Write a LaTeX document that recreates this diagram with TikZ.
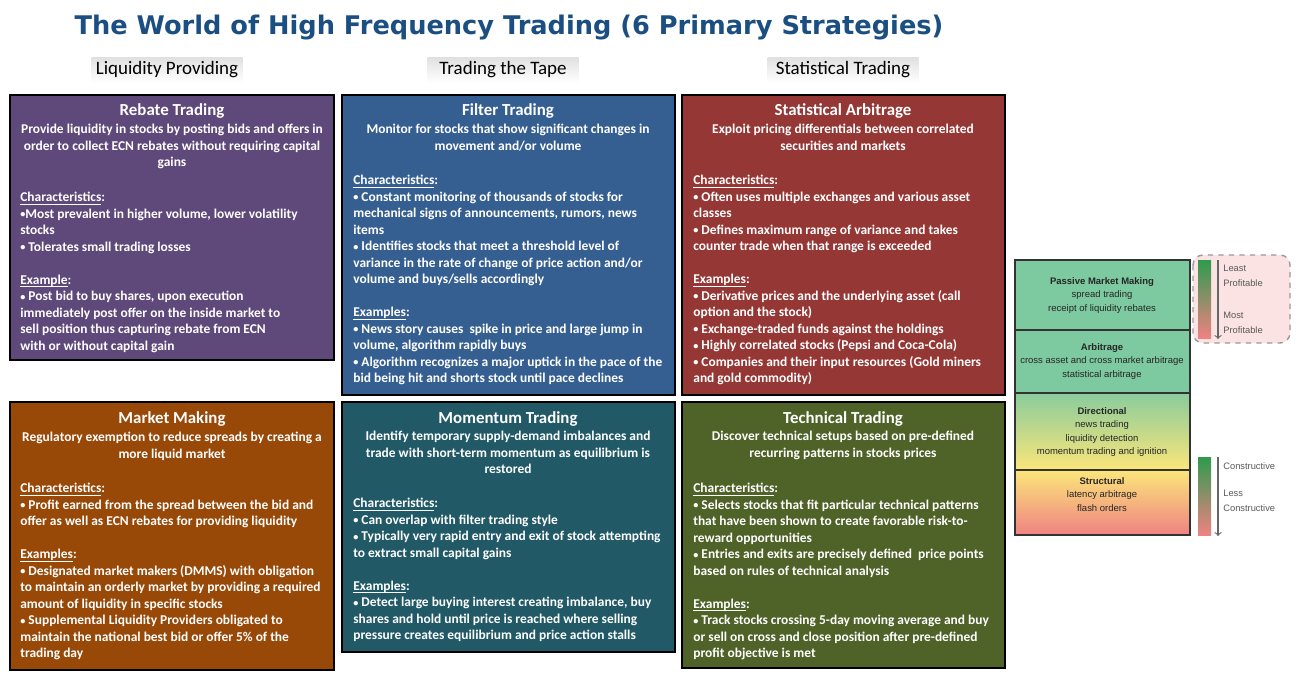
\documentclass[tikz,border=0pt]{standalone}
\usepackage{fontspec}
\setmainfont{Carlito}
\newfontfamily\arialfont{Liberation Sans}
\newfontfamily\titlefont{DejaVu Sans}
\newcommand{\bul}{\raisebox{0.4pt}{\fontsize{5.8}{9.4}\selectfont •}}
\newcommand{\sectul}[1]{\underline{\smash{#1}}}
\definecolor{titleblue}{HTML}{1B4F82}
\definecolor{rebate}{HTML}{5F497A}
\definecolor{filter}{HTML}{365F91}
\definecolor{statarb}{HTML}{953735}
\definecolor{marketmk}{HTML}{984807}
\definecolor{momentum}{HTML}{215967}
\definecolor{technical}{HTML}{4F6228}
\definecolor{lvgreen}{HTML}{7DC9A0}
\definecolor{lvyellow}{HTML}{FBE67A}
\definecolor{lvpeach}{HTML}{F7C3A8}
\definecolor{lvpink}{HTML}{EF8282}
\definecolor{bargreen}{HTML}{2E9A4E}
\definecolor{baryellow}{HTML}{F8D55A}
\definecolor{legpink}{HTML}{FCE3E3}
\tikzset{
  strat/.style={draw=black, line width=1.1pt},
  head/.style={text=white, font=\fontsize{9.6}{11}\selectfont\bfseries},
  sub/.style={text=white, font=\fontsize{7.65}{9.4}\selectfont\bfseries, align=center, anchor=north, inner sep=0pt},
  body/.style={text=white, font=\fontsize{7.65}{9.4}\selectfont\bfseries, align=left, anchor=north west, inner sep=0pt},
  colhead/.style={top color=black!12, bottom color=white, font=\fontsize{10.8}{12}\selectfont, minimum width=3.02cm, minimum height=0.5cm, inner sep=0pt},
  level/.style={font=\arialfont\fontsize{5.4}{7.7}\selectfont, align=center, anchor=north, inner sep=0pt, text=black!85},
  legtext/.style={font=\arialfont\fontsize{5.3}{8.3}\selectfont, align=left, anchor=north west, inner sep=0pt, text=black!65}
}
\begin{document}
\begin{tikzpicture}[x=0.02cm, y=-0.02cm]
\useasboundingbox (0,0) rectangle (1300,682);
\fill[white] (0,0) rectangle (1300,682);
\node[text=titleblue, font=\titlefont\bfseries\fontsize{14.6}{18}\selectfont] (title) at (509,28) {The World of High Frequency Trading (6 Primary Strategies)};
\node[colhead] (liqhead) at (167,70) {Liquidity Providing};
\node[colhead] (tapehead) at (503,70) {Trading the Tape};
\node[colhead] (stathead) at (843,70) {Statistical Trading};

\filldraw[strat, fill=rebate] (10,95) rectangle (334,360);
\filldraw[strat, fill=filter] (342,95) rectangle (675,395);
\filldraw[strat, fill=statarb] (682,95) rectangle (1005,395);
\filldraw[strat, fill=marketmk] (10,402) rectangle (334,670);
\filldraw[strat, fill=momentum] (342,402) rectangle (675,652);
\filldraw[strat, fill=technical] (682,402) rectangle (1005,668);

\node[head] (rebatehead) at (172,111) {Rebate Trading};
\node[sub] (rebatesub) at (172,124) {Provide liquidity in stocks by posting bids and offers in\\order to collect ECN rebates without requiring capital\\gains};
\node[body] (rebatebody) at (20,195) {\sectul{Characteristics}:\\
\bul Most prevalent in higher volume, lower volatility\\
stocks\\
\bul\ Tolerates small trading losses\\[9.4pt]
\sectul{Example}:\\
\bul\ Post bid to buy shares, upon execution\\
immediately post offer on the inside market to\\
sell position thus capturing rebate from ECN\\
with or without capital gain};

\node[head] (filterhead) at (508,111) {Filter Trading};
\node[sub] (filtersub) at (508,124) {Monitor for stocks that show significant changes in\\movement and/or volume};
\node[body] (filterbody) at (353,178) {\sectul{Characteristics}:\\
\bul\ Constant monitoring of thousands of stocks for\\
mechanical signs of announcements, rumors, news\\
items\\
\bul\ Identifies stocks that meet a threshold level of\\
variance in the rate of change of price action and/or\\
volume and buys/sells accordingly\\[9.4pt]
\sectul{Examples}:\\
\bul\ News story causes\ \ spike in price and large jump in\\
volume, algorithm rapidly buys\\
\bul\ Algorithm recognizes a major uptick in the pace of the\\
bid being hit and shorts stock until pace declines};

\node[head] (stathead2) at (843,111) {Statistical Arbitrage};
\node[sub] (statsub) at (843,124) {Exploit pricing differentials between correlated\\securities and markets};
\node[body] (statbody) at (693,178) {\sectul{Characteristics}:\\
\bul\ Often uses multiple exchanges and various asset\\
classes\\
\bul\ Defines maximum range of variance and takes\\
counter trade when that range is exceeded\\[9.4pt]
\sectul{Examples}:\\
\bul\ Derivative prices and the underlying asset (call\\
option and the stock)\\
\bul\ Exchange-traded funds against the holdings\\
\bul\ Highly correlated stocks (Pepsi and Coca-Cola)\\
\bul\ Companies and their input resources (Gold miners\\
and gold commodity)};

\node[head] (markethead) at (172,419) {Market Making};
\node[sub] (marketsub) at (172,432) {Regulatory exemption to reduce spreads by creating a\\more liquid market};
\node[body] (marketbody) at (20,486) {\sectul{Characteristics}:\\
\bul\ Profit earned from the spread between the bid and\\
offer as well as ECN rebates for providing liquidity\\[9.4pt]
\sectul{Examples}:\\
\bul\ Designated market makers (DMMS) with obligation\\
to maintain an orderly market by providing a required\\
amount of liquidity in specific stocks\\
\bul\ Supplemental Liquidity Providers obligated to\\
maintain the national best bid or offer 5\% of the\\
trading day};

\node[head] (momhead) at (508,419) {Momentum Trading};
\node[sub] (momsub) at (508,431) {Identify temporary supply-demand imbalances and\\trade with short-term momentum as equilibrium is\\restored};
\node[body] (mombody) at (353,501) {\sectul{Characteristics}:\\
\bul\ Can overlap with filter trading style\\
\bul\ Typically very rapid entry and exit of stock attempting\\
to extract small capital gains\\[9.4pt]
\sectul{Examples}:\\
\bul\ Detect large buying interest creating imbalance, buy\\
shares and hold until price is reached where selling\\
pressure creates equilibrium and price action stalls};

\node[head] (techhead) at (843,419) {Technical Trading};
\node[sub] (techsub) at (843,431) {Discover technical setups based on pre-defined\\recurring patterns in stocks prices};
\node[body] (techbody) at (693,486) {\sectul{Characteristics}:\\
\bul\ Selects stocks that fit particular technical patterns\\
that have been shown to create favorable risk-to-\\
reward opportunities\\
\bul\ Entries and exits are precisely defined\ \ price points\\
based on rules of technical analysis\\[9.4pt]
\sectul{Examples}:\\
\bul\ Track stocks crossing 5-day moving average and buy\\
or sell on cross and close position after pre-defined\\
profit objective is met};

\fill[lvgreen] (1015,260) rectangle (1190,393);
\shade[top color=lvgreen!90!lvyellow, bottom color=lvyellow] (1015,393) rectangle (1190,470);
\shade[top color=lvyellow, middle color=lvpeach, bottom color=lvpink] (1015,470) rectangle (1190,535);
\draw[black!80, line width=0.8pt] (1015,260) rectangle (1190,535);
\draw[black!80, line width=0.8pt] (1015,330) -- (1190,330);
\draw[black!80, line width=0.8pt] (1015,393) -- (1190,393);
\draw[black!80, line width=0.8pt] (1015,470) -- (1190,470);
\node[level] (passive) at (1102,277) {\textbf{Passive Market Making}\\spread trading\\receipt of liquidity rebates};
\node[level] (arbitrage) at (1102,343) {\textbf{Arbitrage}\\cross asset and cross market arbitrage\\statistical arbitrage};
\node[level] (directional) at (1102,407) {\textbf{Directional}\\news trading\\liquidity detection\\momentum trading and ignition};
\node[level] (structural) at (1102,477) {\textbf{Structural}\\latency arbitrage\\flash orders};

\filldraw[draw=black!40, dashed, line width=0.8pt, fill=legpink, rounded corners=0.2cm] (1193,255) rectangle (1290,343);
\shade[top color=bargreen, middle color=baryellow, bottom color=lvpink] (1198,260) rectangle (1211,338);
\shade[top color=bargreen, middle color=baryellow!60!lvpeach, bottom color=lvpink] (1198,457) rectangle (1211,535);
\coordinate (proftop) at (1218,260);
\coordinate (profbot) at (1218,339);
\coordinate (constop) at (1218,457);
\coordinate (consbot) at (1218,536);
\draw[->, black!60, line width=0.6pt] (proftop) -- (profbot);
\draw[->, black!60, line width=0.6pt] (constop) -- (consbot);
\node[legtext] (least) at (1223,265) {Least\\Profitable};
\node[legtext] (most) at (1223,312) {Most\\Profitable};
\node[legtext] (cons) at (1223,462) {Constructive};
\node[legtext] (lesscons) at (1223,490) {Less\\Constructive};
\end{tikzpicture}
\end{document}
